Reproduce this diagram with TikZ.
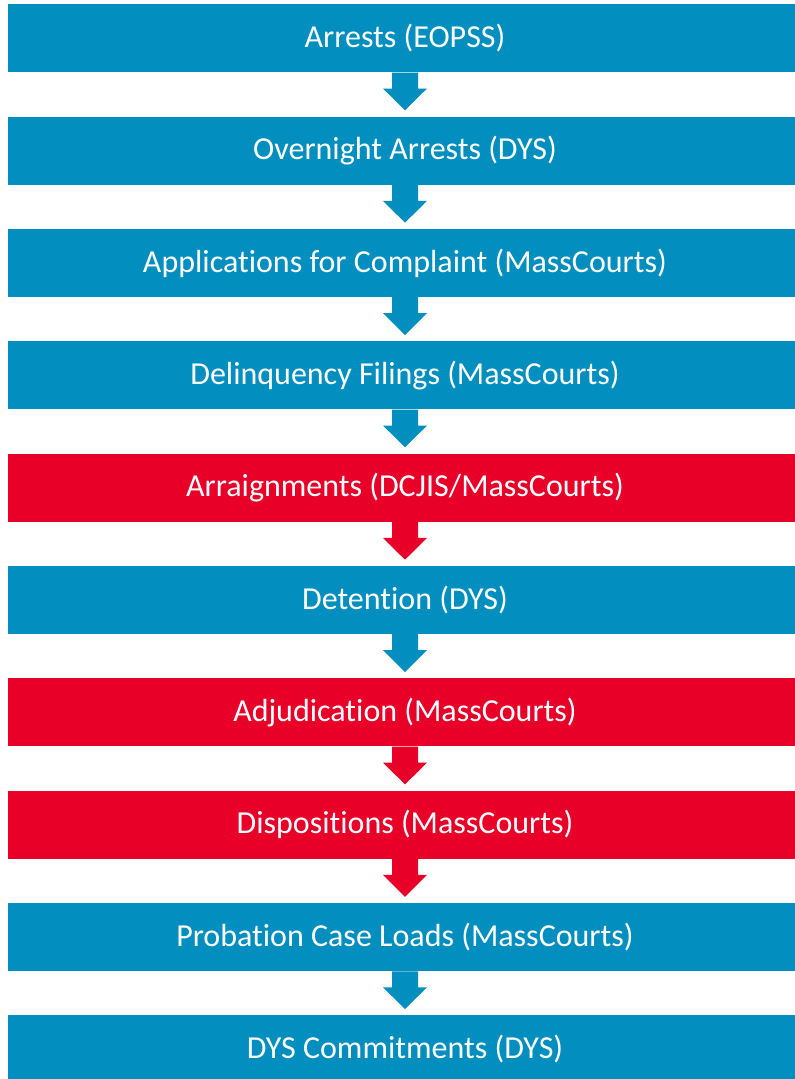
\documentclass[tikz,border=0pt]{standalone}
\usepackage{fontspec}
\setmainfont{Carlito}[Ligatures=NoCommon]
\usetikzlibrary{calc}
\definecolor{flowblue}{RGB}{2,143,192}
\definecolor{flowred}{RGB}{232,0,40}
\newcommand{\nolig}{\kern0pt }
\begin{document}
\begin{tikzpicture}[x=0.75pt,y=-0.75pt,
  stage/.style={rectangle, anchor=north, inner sep=0pt, minimum width=596.25pt, minimum height=51pt,
    text=white, font=\fontsize{24}{28}\selectfont},
  bluestage/.style={stage, fill=flowblue},
  redstage/.style={stage, fill=flowred}]
\useasboundingbox (0,0) rectangle (794,1079);
\def\flowarrow#1#2#3{%
  \fill[#3] ($(#1.south)+(-13,0)$) -- ($(#1.south)+(-13,16)$) -- ($(#1.south)+(-22,16)$)
    -- ($(#2.north)+(0,-6)$) -- ($(#1.south)+(22,16)$) -- ($(#1.south)+(13,16)$)
    -- ($(#1.south)+(13,0)$) -- cycle;}
\node[bluestage] (n1) at (405,4) {Arrests (EOPSS)};
\node[bluestage] (n2) at (405,116.3) {Overnight Arrests (DYS)};
\node[bluestage] (n3) at (405,228.7) {Applicat\nolig ions for Complaint (MassCourts)};
\node[bluestage] (n4) at (405,341) {Delinquency Filings (MassCourts)};
\node[redstage]  (n5) at (405,453.4) {Arraignments (DCJIS/MassCourts)};
\node[bluestage] (n6) at (405,565.7) {Detent\nolig ion (DYS)};
\node[redstage]  (n7) at (405,678.1) {Adjudicat\nolig ion (MassCourts)};
\node[redstage]  (n8) at (405,790.4) {Disposit\nolig ions (MassCourts)};
\node[bluestage] (n9) at (405,902.8) {Probat\nolig ion Case Loads (MassCourts)};
\node[bluestage] (n10) at (405,1015.1) {DYS Commitments (DYS)};
\flowarrow{n1}{n2}{flowblue}
\flowarrow{n2}{n3}{flowblue}
\flowarrow{n3}{n4}{flowblue}
\flowarrow{n4}{n5}{flowblue}
\flowarrow{n5}{n6}{flowred}
\flowarrow{n6}{n7}{flowblue}
\flowarrow{n7}{n8}{flowred}
\flowarrow{n8}{n9}{flowred}
\flowarrow{n9}{n10}{flowblue}
\end{tikzpicture}
\end{document}
